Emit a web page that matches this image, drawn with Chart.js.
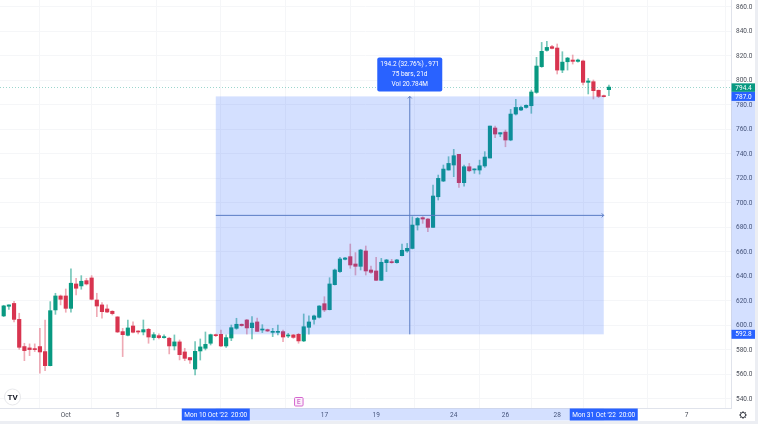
<!DOCTYPE html>
<html>
<head>
<meta charset="utf-8">
<title>Candles</title>
<script src="https://cdn.jsdelivr.net/npm/chart.js@4/dist/chart.umd.min.js"></script>
<style>
  html, body { margin: 0; padding: 0; background: #eceef3; overflow: hidden; }
  canvas { display: block; background: #fff; filter: blur(0.35px); }
</style>
</head>
<body>
<canvas id="chart" width="755" height="421"></canvas>
<script>
const opens = [607.8,615.7,618,605,582.8,581.7,580.8,582.8,578.7,567.2,612.7,624.1,624.1,614,633.9,632.3,636.6,638.8,620.8,616.8,
  613.5,611.6,607,595,592,599.6,595.3,594.7,596.9,590.1,591.7,590.1,589.6,583.3,586.6,578.4,573.8,564.5,579.2,581.4,
  585.5,592.5,592.8,583.3,589.8,597.7,601,604.5,598.2,602.9,596.3,596.6,594.4,594.4,595,591.4,592.3,592.8,587.4,598.5,
  605,606.7,617.8,612.9,633.3,644,654,656.2,650.2,648.3,660.8,645.3,644.5,636.9,651.3,652.1,651.3,657,660.8,662.9,
  682,688,686.9,680.1,705.1,717.9,726.9,731,739.7,716.6,729.6,727,726.9,730.2,736.7,761.2,756.3,757.9,751.4,772.6,
  775.9,778,779.4,790.3,811.3,824.6,827.6,826.5,808.5,815.3,816.7,815.6,815.9,798.5,799,792,787.3,792.5];
const highs = [616.5,616.8,619.8,610,585.5,585,585,597.7,604.5,619.5,626.3,624.9,629.8,646.2,638.5,640.7,638.5,640.7,626.3,618.7,
  616.8,612.1,607.2,597.7,604.5,603,595.8,604.5,597.7,594.2,593.1,592.3,590.4,592.3,588.2,581.4,574,586.8,589,594.7,
  593,593,596.3,592.3,600.4,605.9,601.3,605,607.2,606,600.7,597.1,597.7,600.4,596.3,593.6,592.8,593.6,609.4,607.8,
  608.6,616.2,623.5,639,646.1,655.7,655.6,666.5,659.5,662.2,664.9,648.6,655.6,654.8,654,654,654,666.5,667,688.8,
  688.3,688.8,687.4,714.6,722.8,731,737.8,743.8,739.7,731,732.3,727.9,735,741.9,762.8,762.8,757.4,759.5,776.4,784.6,
  779.1,780.2,792.2,818.9,831.1,831.9,828.7,829.8,823.5,818.9,820.8,817.5,816.7,801.7,800.4,792.2,788.1,796.3];
const lows = [607.2,613.2,602.9,580.6,571.3,575.4,578.7,561,563.2,567,609.1,616.8,610.8,610.8,624.9,629.6,633.1,620.8,607.2,605.9,
  610.5,608.6,594.2,574.6,591.5,594,593.1,592.3,585.5,588.2,589,589.6,576.8,580,571.9,571.3,569.1,559.6,571.8,580,
  584.1,590.9,582.7,582.2,587.6,596.9,599.4,593,589,595.2,594.2,595,590.9,592.3,586.8,590.1,589.5,585.5,586.8,593,
  601,606.1,611.3,612.7,633,643.4,653.5,646.7,641.2,645.3,641.2,642.6,636.6,636.6,644,650.8,650.8,656.7,659.7,662.5,
  677.9,683.4,676.6,680.1,702.4,717.4,726.9,721.5,712.7,713.8,725.5,724.2,723.6,729,736.7,753.3,754.1,745.9,750.8,771.8,
  775.3,777.5,773.2,789.5,810.7,824,825.7,805.3,806.4,808.5,813.4,815,796.3,789,784.9,786,786.5,787.6];
const closes = [616,616.8,605,582.2,579.5,580.3,580.3,578.4,567.2,612.1,624.1,621.4,614,634.5,630.4,636.1,633.9,621.4,615.9,611.3,
  611,609.7,594.7,592.5,598,594.5,594.7,596.6,590.6,592.5,590.1,590.9,583.3,586.6,576.2,573.2,571.9,578.9,582.5,584.6,
  592.5,591.7,583.3,590.1,598.2,601,599.9,598,602,595.2,597.1,595.5,595,595,590.6,592.3,590.3,587.4,599,602.9,
  607.8,615.9,612.7,633.9,645.3,654.3,655.1,649.4,648.3,661.6,644.5,643.4,636.9,651.6,653.5,651.3,653.5,661.4,663,682,
  687.4,686.9,680.1,705.7,720.1,727.7,732.3,738.6,716.6,729.6,726.3,727.4,730.4,737.5,762.8,756.3,757.4,751.4,772.6,778,
  778,779.7,790.6,811.8,823.8,827,826.2,808.5,815,818.3,815.6,816.7,798.5,799.6,791.7,787,786.8,794.6];

const barIndex = opens.map((_, i) => i);
const yTicks = [540,560,580,600,620,640,660,680,700,720,740,760,780,800,820,840,860];
const xTickBars = [12,22,37,47,62,72,87,97,107,117,132];
const xTickLabels = ["Oct","5","","","17","19","24","26","28","","7"];

const measureFrom = 41, measureTo = 116;
const measureLow = 592.8, measureHigh = 787.0;
const lastPrice = 794.4;
const measureText = ["194.2 (32.76%) , 971", "75 bars, 21d", "Vol 20.784M"];
const fromDate = "Mon 10 Oct '22  20:00", toDate = "Mon 31 Oct '22  20:00";
const earningsBar = 57;

const GREEN = "#089981", RED = "#d8344f", BLUE = "#2962ff";
const FONT = "Roboto, sans-serif";

const isUp = i => closes[i] >= opens[i];
const bodyColors = barIndex.map(i => isUp(i) ? GREEN : RED);
const wickColors = barIndex.map(i => isUp(i) ? "rgba(8,153,129,.55)" : "rgba(216,52,79,.42)");

function boxLabel(ctx, txt, x, y, w, h, fill, r) {
  ctx.fillStyle = fill;
  ctx.beginPath();
  ctx.roundRect(x, y, w, h, r || 0);
  ctx.fill();
  ctx.fillStyle = "#fff";
  ctx.textAlign = "center";
  ctx.textBaseline = "middle";
  ctx.fillText(txt, x + w / 2, y + h / 2 + 0.5);
}

// everything that sits on top of the candles
const overlay = {
  id: "overlay",
  afterDatasetsDraw(chart) {
    const { ctx, chartArea: a, scales: { x, y } } = chart;
    const x0 = x.getPixelForValue(measureFrom), x1 = x.getPixelForValue(measureTo);
    const yH = y.getPixelForValue(measureHigh), yL = y.getPixelForValue(measureLow);
    const xm = (x0 + x1) / 2, ym = (yH + yL) / 2;
    ctx.save();

    // last price line
    ctx.strokeStyle = "rgba(8,153,129,.4)";
    ctx.lineWidth = 1;
    ctx.setLineDash([1, 2]);
    const yP = Math.round(y.getPixelForValue(lastPrice)) + 0.5;
    ctx.beginPath(); ctx.moveTo(0, yP); ctx.lineTo(a.right, yP); ctx.stroke();
    ctx.setLineDash([]);

    // measure box
    ctx.fillStyle = "rgba(41,98,255,.2)";
    ctx.fillRect(x0, yH, x1 - x0, yL - yH);

    // arrows
    ctx.strokeStyle = "#5a7cc4";
    ctx.beginPath();
    ctx.moveTo(xm, yL); ctx.lineTo(xm, yH);
    ctx.moveTo(xm - 2, yH + 2); ctx.lineTo(xm, yH); ctx.lineTo(xm + 2, yH + 2);
    ctx.moveTo(x0, ym); ctx.lineTo(x1, ym);
    ctx.moveTo(x1 - 2, ym - 2); ctx.lineTo(x1, ym); ctx.lineTo(x1 - 2, ym + 2);
    ctx.stroke();

    // tooltip
    ctx.font = "6.5px " + FONT;
    ctx.fillStyle = BLUE;
    ctx.beginPath();
    ctx.roundRect(xm - 32.5, yH - 39, 65, 34, 2);
    ctx.fill();
    ctx.fillStyle = "#fff";
    ctx.textAlign = "center";
    ctx.textBaseline = "middle";
    measureText.forEach((t, n) => ctx.fillText(t, xm, yH - 32 + n * 10));

    // axis bands
    ctx.fillStyle = "rgba(41,98,255,.2)";
    ctx.fillRect(a.right + 0.5, yH, chart.width - a.right, yL - yH);
    ctx.fillRect(x0, a.bottom + 0.5, x1 - x0, chart.height - a.bottom - 1);

    // axis labels
    const labelX = a.right + 0.5, labelW = chart.width - a.right;
    boxLabel(ctx, lastPrice.toFixed(1), labelX, y.getPixelForValue(lastPrice) - 4, labelW, 8.5, GREEN);
    boxLabel(ctx, measureHigh.toFixed(1), labelX, yH - 4.5, labelW, 9, BLUE);
    boxLabel(ctx, measureLow.toFixed(1), labelX, yL - 4.5, labelW, 9, BLUE);
    boxLabel(ctx, fromDate, x0 - 34, a.bottom + 0.5, 68, 12, BLUE);
    boxLabel(ctx, toDate, x1 - 34, a.bottom + 0.5, 68, 12, BLUE);

    // earnings marker
    const xE = x.getPixelForValue(earningsBar);
    ctx.fillStyle = "#fbeffa";
    ctx.strokeStyle = "#d566cf";
    ctx.beginPath();
    ctx.roundRect(xE - 4, a.bottom - 10.5, 8.5, 8.5, 1);
    ctx.fill(); ctx.stroke();
    ctx.fillStyle = "#c23fbb";
    ctx.font = "6.5px " + FONT;
    ctx.fillText("E", xE + 0.3, a.bottom - 6);

    // logo
    ctx.fillStyle = "#fff";
    ctx.strokeStyle = "#e6e7ea";
    ctx.beginPath(); ctx.arc(12.5, 397, 8, 0, Math.PI * 2); ctx.fill(); ctx.stroke();
    ctx.fillStyle = "#131722";
    ctx.font = "bold 8px " + FONT;
    ctx.fillText("TV", 12.5, 397.5);

    // settings gear
    const gx = 743, gy = 415;
    ctx.strokeStyle = "#3a3d46";
    ctx.beginPath(); ctx.arc(gx, gy, 2.6, 0, Math.PI * 2); ctx.stroke();
    for (let k = 0; k < 8; k++) {
      const t = k * Math.PI / 4;
      ctx.beginPath();
      ctx.moveTo(gx + Math.cos(t) * 2.6, gy + Math.sin(t) * 2.6);
      ctx.lineTo(gx + Math.cos(t) * 3.8, gy + Math.sin(t) * 3.8);
      ctx.stroke();
    }
    ctx.restore();
  }
};

new Chart(document.getElementById("chart"), {
  type: "bar",
  data: {
    datasets: [
      {
        label: "wick",
        data: barIndex.map(i => ({ x: i, y: [lows[i], highs[i]] })),
        backgroundColor: wickColors,
        barThickness: 1,
        order: 2
      },
      {
        label: "body",
        data: barIndex.map(i => ({ x: i, y: [opens[i], closes[i]] })),
        backgroundColor: bodyColors,
        barThickness: 3.5,
        minBarLength: 1,
        order: 1
      }
    ]
  },
  options: {
    responsive: false,
    animation: false,
    events: [],
    layout: { padding: 0 },
    datasets: { bar: { grouped: false } },
    plugins: { legend: { display: false }, tooltip: { enabled: false } },
    scales: {
      x: {
        type: "linear",
        offset: false,
        min: -0.715,
        max: 140.6,
        afterBuildTicks: s => { s.ticks = xTickBars.map(v => ({ value: v })); },
        afterFit: s => { s.height = 13; s.paddingLeft = 0; s.paddingRight = 0; },
        ticks: {
          autoSkip: false,
          maxRotation: 0,
          padding: 3,
          color: "#4a4e59",
          font: { family: FONT, size: 6.5 },
          callback: v => xTickLabels[xTickBars.indexOf(v)]
        },
        grid: { color: "#f5f6f8", drawTicks: false },
        border: { color: "#e0e3eb" }
      },
      y: {
        position: "right",
        min: 532.65,
        max: 865.7,
        afterBuildTicks: s => { s.ticks = yTicks.map(v => ({ value: v })); },
        afterFit: s => { s.width = 24; s.paddingTop = 0; s.paddingBottom = 0; },
        ticks: {
          padding: 5,
          color: "#4a4e59",
          font: { family: FONT, size: 6.5 },
          callback: v => v.toFixed(1)
        },
        grid: { color: "#f5f6f8", drawTicks: false },
        border: { color: "#e0e3eb" }
      }
    }
  },
  plugins: [overlay]
});
</script>
</body>
</html>
